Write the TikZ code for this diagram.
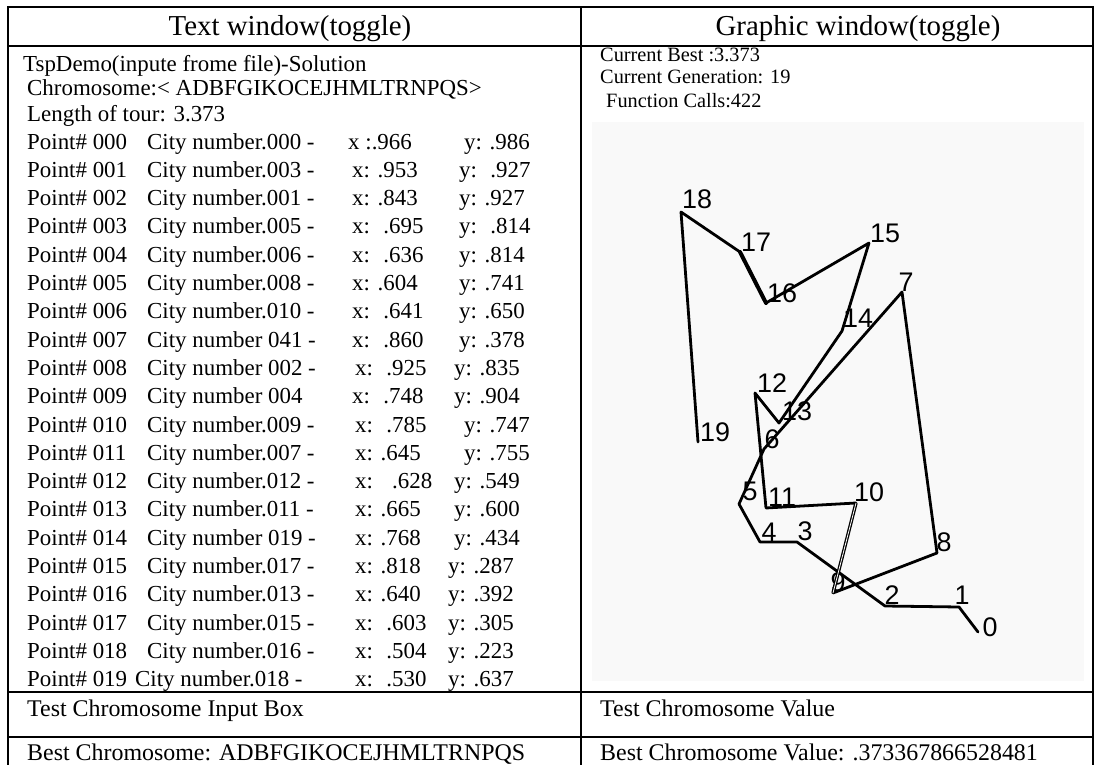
\documentclass[tikz,border=0pt]{standalone}
\usepackage{fontspec}
\setmainfont{Liberation Serif}
\newfontfamily\cityfont{Liberation Sans}
\usetikzlibrary{positioning}
\tikzstyle{frame} = [line width=2.2pt]
\tikzstyle{title} = [anchor=base, inner sep=0pt, font=\fontsize{29}{32}\selectfont]
\tikzstyle{txt} = [anchor=base west, inner sep=0pt, font=\fontsize{23}{26}\selectfont]
\tikzstyle{low} = [txt, font=\fontsize{24}{27}\selectfont]
\tikzstyle{info} = [anchor=base west, inner sep=0pt, font=\fontsize{20.4}{24}\selectfont]
\tikzstyle{city} = [inner sep=0pt, font=\cityfont\fontsize{27}{30}\selectfont]
\tikzstyle{tour} = [line width=2.8pt, line cap=round, line join=round]

\begin{document}
\begin{tikzpicture}[x=1bp, y=-1bp]
	\useasboundingbox (0,0) rectangle (1095,765);
	% table
	\coordinate (nw) at (8,7);
	\coordinate (se) at (1093,767);
	\fill[black!2.5] (592,122) rectangle (1084,681);
	\draw[frame] (nw) rectangle (se);
	\draw[frame] (8,46) -- (1093,46);
	\draw[frame] (581,7) -- (581,767);
	\draw[frame] (8,692) -- (1093,692);
	\draw[frame] (8,737) -- (1093,737);
	\node[title] (ttext) at (290,36) {Text window(toggle)};
	\node[title] (tgraph) at (858,36) {Graphic window(toggle)};
	% text window
	\node[txt] (demo) at (23,72) {TspDemo(inpute frome file)-Solution};
	\node[txt] (chrom) at (27,96) {Chromosome:< ADBFGIKOCEJHMLTRNPQS>};
	\node[txt] (len) at (27,121) {Length of tour: 3.373};
	\foreach \n/\cx/\cty/\xat/\xt/\yat/\yt [count=\k from 0] in {
		000/147/City number.000 -/348/x :.966/464/y: .986,
		001/147/City number.003 -/352/x: .953/459/y:~ .927,
		002/147/City number.001 -/352/x: .843/459/y: .927,
		003/147/City number.005 -/352/x:~ .695/459/y:~ .814,
		004/147/City number.006 -/352/x:~ .636/459/y: .814,
		005/147/City number.008 -/352/x: .604/459/y: .741,
		006/147/City number.010 -/352/x:~ .641/459/y: .650,
		007/147/City number 041 -/352/x:~ .860/459/y: .378,
		008/147/City number 002 -/355/x:~ .925/454/y: .835,
		009/147/City number 004/352/x:~ .748/454/y: .904,
		010/147/City number.009 -/355/x:~ .785/464/y: .747,
		011/147/City number.007 -/355/x: .645/464/y: .755,
		012/147/City number.012 -/355/x:~~ .628/454/y: .549,
		013/147/City number.011 -/355/x: .665/454/y: .600,
		014/147/City number 019 -/355/x: .768/454/y: .434,
		015/147/City number.017 -/355/x: .818/448/y: .287,
		016/147/City number.013 -/355/x: .640/448/y: .392,
		017/147/City number.015 -/355/x:~ .603/448/y: .305,
		018/147/City number.016 -/355/x:~ .504/448/y: .223,
		019/135/City number.018 -/355/x:~ .530/448/y: .637} {
		\node[txt] (p\n) at (27,{149+28.3*\k}) {Point\# \n};
		\node[txt] (n\n) at (\cx,{149+28.3*\k}) {\cty};
		\node[txt] (x\n) at (\xat,{149+28.3*\k}) {\xt};
		\node[txt] (y\n) at (\yat,{149+28.3*\k}) {\yt};
	}
	% graphic window
	\node[info] (cbest) at (600,62) {Current Best :3.373};
	\node[info] (cgen) at (600,84) {Current Generation: 19};
	\node[info] (fcalls) at (606,108) {Function Calls:422};
	\foreach \i/\vx/\vy/\lx/\ly in {0/978/632/990/627, 1/959/607/962/595,
		2/885/606/892/595, 3/797/542/805/531, 4/760/542/769/532,
		5/739/504/750/491, 6/764/449/772/439, 7/902/292/906/282,
		8/937/553/944/542, 9/833/593/838/582, 10/856/503/869/492,
		11/766/508/782/497, 12/755/393/772/383, 13/779/423/797/411,
		14/842/331/858/318, 15/869/243/885/233, 16/766/303/782/293,
		17/740/252/756/242, 18/681/212/697/199, 19/698/442/715/432} {
		\coordinate (v\i) at (\vx,\vy);
		\node[city] (l\i) at (\lx,\ly) {\i};
	}
	\draw[tour] (v0) -- (v1) -- (v2) -- (v3) -- (v4) -- (v5) -- (v6) -- (v7) -- (v8) -- (v9);
	\draw[tour] (v10) -- (v11) -- (v12) -- (v13) -- (v14) -- (v15) -- (v16) -- (v17) -- (v18) -- (v19);
	\draw[line width=1.3pt, double, double distance=0.8pt] (v9) -- (v10);
	\draw[tour, line width=4pt] (v16) -- (v17);
	\node[low] (testin) at (27,716) {Test Chromosome Input Box};
	\node[low] (bestc) at (27,760) {Best Chromosome: ADBFGIKOCEJHMLTRNPQS};
	\node[low] (testv) at (600,716) {Test Chromosome Value};
	\node[low] (bestv) at (600,760) {Best Chromosome Value: .373367866528481};
\end{tikzpicture}
\end{document}
